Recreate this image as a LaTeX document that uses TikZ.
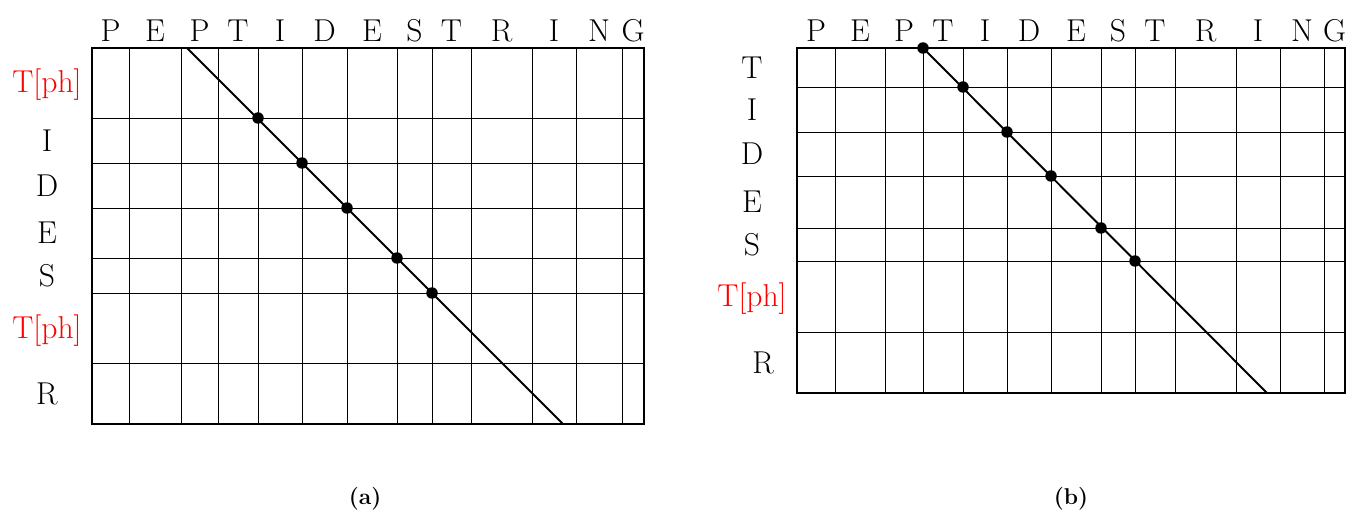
\documentclass[tikz,border=0pt]{standalone}
\usepackage{xcolor}
\begin{document}
\begin{tikzpicture}[x=0.02cm,y=-0.02cm,
  frame/.style={line width=1.3pt},
  gridln/.style={line width=0.5pt},
  diag/.style={line width=1.1pt},
  hit/.style={circle,fill=black,inner sep=0pt,minimum size=2.3mm},
  res/.style={anchor=base,font=\fontsize{18}{20}\selectfont},
  phos/.style={res,text=red},
  subcap/.style={font=\fontsize{13}{15}\selectfont\bfseries}]
\useasboundingbox (0,0) rectangle (1352,513);

% (a)
\foreach \x in {129,181,218,258,302,347,397,432,471,532,576,622}
  \draw[gridln] (\x,48) -- (\x,424);
\foreach \y in {118,163,208,258,293,363}
  \draw[gridln] (92,\y) -- (644,\y);
\draw[frame] (92,48) rectangle (644,424);
\foreach \xl/\xr/\aa [count=\i] in {92/129/P,129/181/E,181/218/P,218/258/T,258/302/I,302/347/D,347/397/E,397/432/S,432/471/T,471/532/R,532/576/I,576/622/N,622/644/G}
  \node[res] (ca\i) at ({(\xl+\xr)/2},42) {\aa};
\node[phos] (ra1) at (47,93) {T[ph]};
\node[res] (ra2) at (47,151.5) {I};
\node[res] (ra3) at (47,196.5) {D};
\node[res] (ra4) at (47,244) {E};
\node[res] (ra5) at (47,286.5) {S};
\node[phos] (ra6) at (47,338) {T[ph]};
\node[res] (ra7) at (47,404.5) {R};
\coordinate (sa) at (187,48);
\coordinate (ea) at (563,424);
\draw[diag] (sa) -- (ea);
\node[hit] (ha1) at (258,118) {};
\node[hit] (ha2) at (302,163) {};
\node[hit] (ha3) at (347,208) {};
\node[hit] (ha4) at (397,258) {};
\node[hit] (ha5) at (432,293) {};
\node[subcap] (capa) at (365,499) {(a)};

% (b)
\foreach \x in {835,885,923,963,1007,1051,1101,1135,1175,1236,1280,1324}
  \draw[gridln] (\x,48) -- (\x,393);
\foreach \y in {87,132,176,228,261,332}
  \draw[gridln] (797,\y) -- (1345,\y);
\draw[frame] (797,48) rectangle (1345,393);
\foreach \xl/\xr/\bb [count=\i] in {797/835/P,835/885/E,885/923/P,923/963/T,963/1007/I,1007/1051/D,1051/1101/E,1101/1135/S,1135/1175/T,1175/1236/R,1236/1280/I,1280/1324/N,1324/1345/G}
  \node[res] (cb\i) at ({(\xl+\xr)/2},42) {\bb};
\node[res] (rb1) at (752,78.5) {T};
\node[res] (rb2) at (752,120.5) {I};
\node[res] (rb3) at (752,165) {D};
\node[res] (rb4) at (752,213) {E};
\node[res] (rb5) at (752,255.5) {S};
\node[phos] (rb6) at (752,306) {T[ph]};
\node[res] (rb7) at (763,373.5) {R};
\node[hit] (sb) at (923,48) {};
\coordinate (eb) at (1267,393);
\draw[diag] (sb.center) -- (eb);
\node[hit] (hb1) at (963,87) {};
\node[hit] (hb2) at (1007,132) {};
\node[hit] (hb3) at (1051,176) {};
\node[hit] (hb4) at (1101,228) {};
\node[hit] (hb5) at (1135,261) {};
\node[subcap] (capb) at (1071,499) {(b)};
\end{tikzpicture}
\end{document}
